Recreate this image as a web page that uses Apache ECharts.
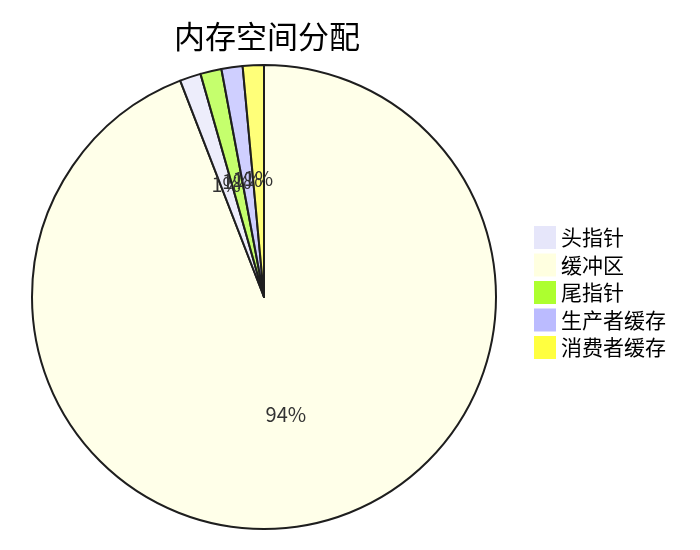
<!DOCTYPE html>
<html>
<head>
<meta charset="utf-8">
<script src="https://cdn.jsdelivr.net/npm/echarts@6/dist/echarts.min.js"></script>
<style>
  html, body { margin: 0; padding: 0; background: #fff; }
  #chart { width: 700px; height: 550px; }
</style>
</head>
<body>
<div id="chart"></div>
<script>
// 图例顺序
const legendNames = ['头指针', '缓冲区', '尾指针', '生产者缓存', '消费者缓存'];
const legendColors = ['#e6e6fa', '#ffffe0', '#adff2f', '#bbbbff', '#ffff40'];

// 扇区顺序（从正上方顺时针）
const sliceNames = ['缓冲区', '头指针', '尾指针', '生产者缓存', '消费者缓存'];
const sliceValues = [256, 4, 4, 4, 4];

const sliceAlpha = 0.7;

const toRgba = (hex, a) => {
  const n = parseInt(hex.slice(1), 16);
  return `rgba(${(n >> 16) & 255},${(n >> 8) & 255},${n & 255},${a})`;
};

const colorOf = (name) => legendColors[legendNames.indexOf(name)];

const total = sliceValues.reduce((s, v) => s + v, 0);

const chartIns = echarts.init(document.getElementById('chart'));

const options = {
  animation: false,
  title: {
    text: '内存空间分配',
    left: 262,
    top: 16,
    textAlign: 'center',
    textStyle: {
      fontFamily: 'Noto Sans CJK SC',
      fontSize: 31,
      fontWeight: 'normal',
      color: '#000',
    },
  },
  legend: {
    orient: 'vertical',
    left: 529,
    top: 221,
    icon: 'rect',
    itemWidth: 22,
    itemHeight: 23,
    itemGap: 4.5,
    textStyle: {
      fontFamily: 'Noto Sans CJK SC',
      fontSize: 21,
      color: '#000',
    },
    data: legendNames.map((name, i) => ({
      name,
      itemStyle: {color: legendColors[i], borderWidth: 0},
    })),
  },
  series: [
    {
      type: 'pie',
      center: [264, 297],
      radius: 232,
      startAngle: 90,
      clockwise: true,
      avoidLabelOverlap: false,
      labelLayout: {hideOverlap: false},
      emphasis: {disabled: true},
      itemStyle: {
        borderColor: '#1e1e1e',
        borderWidth: 2,
      },
      label: {
        show: true,
        position: 'inside',
        formatter: (p) => Math.round(p.value / total * 100) + '%',
        fontFamily: 'Noto Sans CJK SC',
        fontSize: 20,
        color: '#333',
      },
      labelLine: {show: false},
      data: sliceNames.map((name, i) => ({
        name,
        value: sliceValues[i],
        itemStyle: {color: toRgba(colorOf(name), sliceAlpha)},
      })),
    },
  ],
};

chartIns.setOption(options);
</script>
</body>
</html>
